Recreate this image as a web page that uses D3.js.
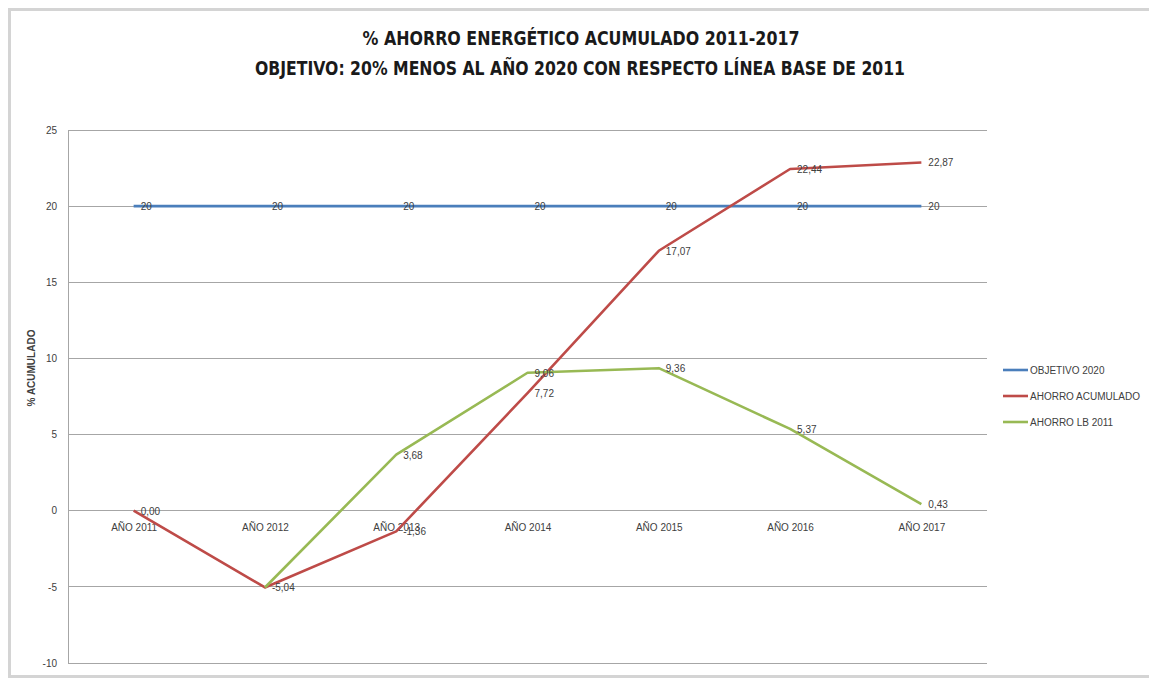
<!DOCTYPE html>
<html><head><meta charset="utf-8">
<script src="https://cdn.jsdelivr.net/npm/d3@7"></script>
<style>
html,body{margin:0;padding:0;background:#fff;}
text{font-family:"Liberation Sans Narrow","DejaVu Sans Condensed","Liberation Sans",sans-serif;}
</style></head>
<body><svg id="c" width="1149" height="679"></svg>
<script>
const categories = ["AÑO 2011","AÑO 2012","AÑO 2013","AÑO 2014","AÑO 2015","AÑO 2016","AÑO 2017"];
const objetivo = [20,20,20,20,20,20,20];
const acumulado = [0.00,-5.04,-1.36,7.72,17.07,22.44,22.87];
const lb2011 = [null,-5.04,3.68,9.06,9.36,5.37,0.43];
const yTicks = [-10,-5,0,5,10,15,20,25];
const seriesNames = ["OBJETIVO 2020","AHORRO ACUMULADO","AHORRO LB 2011"];
const colors = ["#4a7ebb","#be4b48","#98b954"];

const svg = d3.select("#c");
// spreadsheet frame
svg.append("rect").attr("x",9.5).attr("y",9.5).attr("width",1160).attr("height",667)
  .attr("fill","#fff").attr("stroke","#d4d4d4").attr("stroke-width",3);

const pL=68,pR=987,pT=130,pB=663;
const x = d3.scalePoint().domain(categories).range([pL,pR]).padding(0.5);
const y = d3.scaleLinear().domain([-10,25]).range([pB,pT]);

// gridlines
svg.append("g").selectAll("line").data(yTicks).join("line")
  .attr("x1",pL).attr("x2",pR).attr("y1",d=>y(d)).attr("y2",d=>y(d))
  .attr("stroke","#a6a6a6").attr("stroke-width",1).attr("shape-rendering","crispEdges");
svg.append("line").attr("x1",pL).attr("x2",pL).attr("y1",pT).attr("y2",pB)
  .attr("stroke","#a6a6a6").attr("shape-rendering","crispEdges");

// y axis labels
const yAxis = d3.axisLeft(y).tickValues(yTicks).tickSize(0).tickPadding(11).tickFormat(d=>String(d));
const gy = svg.append("g").attr("transform",`translate(${pL},0)`).call(yAxis);
gy.select(".domain").remove();
gy.selectAll("text").attr("font-size",10).attr("fill","#404040")
  .style("font-family","'Liberation Sans Narrow','Liberation Sans',sans-serif");

// x axis labels at y=0
const xAxis = d3.axisBottom(x).tickSize(0).tickPadding(13);
const gx = svg.append("g").attr("transform",`translate(0,${y(0)})`).call(xAxis);
gx.select(".domain").remove();
gx.selectAll("text").attr("font-size",10).attr("fill","#404040")
  .style("font-family","'Liberation Sans Narrow','Liberation Sans',sans-serif");

// y axis title
svg.append("text").attr("transform","translate(35,368) rotate(-90)").attr("text-anchor","middle")
  .attr("font-size",10).attr("font-weight","bold").attr("fill","#404040")
  .style("font-family","'Liberation Sans','DejaVu Sans',sans-serif").text("% ACUMULADO");

// lines
const allSeries=[objetivo,acumulado,lb2011];
const line = d3.line().defined(d=>d!=null).x((d,i)=>x(categories[i])).y(d=>y(d));
allSeries.forEach((s,k)=>{
  svg.append("path").datum(s).attr("d",line).attr("fill","none")
    .attr("stroke",colors[k]).attr("stroke-width",2.6).attr("stroke-linejoin","round");
});
// data labels
const fmt = d=> d.toFixed(2).replace(".",",");
allSeries.forEach((s,k)=>{
  svg.append("g").selectAll("text").data(s.map((v,i)=>({v,i})).filter(d=>d.v!=null && !(k===2 && d.i===1)))
    .join("text")
    .attr("x",d=>x(categories[d.i])+7).attr("y",d=>y(d.v)+4)
    .attr("font-size",10).attr("fill","#404040")
    .style("font-family","'Liberation Sans Narrow','Liberation Sans',sans-serif")
    .text(d=> k===0 ? String(d.v) : fmt(d.v));
});

// legend
const lg = svg.append("g");
seriesNames.forEach((n,k)=>{
  const ly = 370 + k*26;
  lg.append("line").attr("x1",1003).attr("x2",1028).attr("y1",ly).attr("y2",ly)
    .attr("stroke",colors[k]).attr("stroke-width",2.6);
  lg.append("text").attr("x",1030).attr("y",ly+3.5).attr("font-size",10).attr("fill","#404040")
    .style("font-family","'Liberation Sans Narrow','Liberation Sans',sans-serif").text(n);
});

// titles
svg.append("text").attr("x",581).attr("y",45).attr("text-anchor","middle")
  .attr("font-size",19).attr("font-weight","bold").attr("fill","#1a1a1a")
  .attr("textLength",437).attr("lengthAdjust","spacingAndGlyphs")
  .text("% AHORRO ENERGÉTICO ACUMULADO 2011-2017");
svg.append("text").attr("x",580).attr("y",75).attr("text-anchor","middle")
  .attr("font-size",19).attr("font-weight","bold").attr("fill","#1a1a1a")
  .attr("textLength",650).attr("lengthAdjust","spacingAndGlyphs")
  .text("OBJETIVO: 20% MENOS AL AÑO 2020 CON RESPECTO LÍNEA BASE DE 2011");
</script></body></html>
